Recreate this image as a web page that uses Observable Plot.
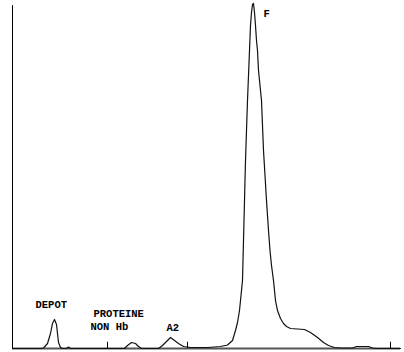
<!DOCTYPE html>
<html>
<head>
<meta charset="utf-8">
<script src="https://cdn.jsdelivr.net/npm/d3@7"></script>
<script src="https://cdn.jsdelivr.net/npm/@observablehq/plot@0.6"></script>
<style>
  html, body { margin: 0; padding: 0; background: #fff; }
  #chart svg { display: block; }
</style>
</head>
<body>
<div id="chart"></div>
<script>
// Retention time (min) and detector signal (% of F peak)
const times = [0, 0.28, 0.31, 0.35, 0.38, 0.40, 0.42, 0.44, 0.45, 0.46, 0.48, 0.50, 0.54, 0.56, 0.58,
  1.12, 1.15, 1.19, 1.23, 1.26, 1.29, 1.46, 1.50, 1.54, 1.58, 1.62, 1.66, 1.71, 1.78, 1.95, 2.08, 2.15,
  2.20, 2.23, 2.25, 2.27, 2.28, 2.29, 2.30, 2.305, 2.31, 2.315, 2.32, 2.325, 2.33, 2.34, 2.35, 2.36,
  2.37, 2.38, 2.39, 2.40, 2.41, 2.42, 2.43, 2.44, 2.45, 2.46, 2.48, 2.49, 2.50, 2.51, 2.525, 2.54,
  2.56, 2.575, 2.59, 2.61, 2.63, 2.65, 2.68, 2.71, 2.74, 2.78, 2.85, 2.92, 2.98, 3.05, 3.11, 3.16,
  3.22, 3.28, 3.40, 3.44, 3.56, 3.60, 3.64, 3.88];
const signal = [0, 0, 0.14, 1.45, 4.35, 7.25, 8.41, 6.96, 4.35, 1.74, 0.29, 0, 0, 0.43, 0,
  0, 0.87, 1.74, 1.45, 0.58, 0, 0, 0.87, 2.03, 3.19, 2.32, 1.45, 0.58, 0.29, 0.29, 0.58, 1.01,
  2.32, 5.22, 7.54, 11.01, 13.91, 16.81, 19.71, 25.51, 31.30, 37.10, 42.90, 48.70, 54.49, 63.19, 71.88, 79.13,
  86.38, 93.62, 97.39, 99.71, 100, 97.39, 93.62, 89.28, 86.38, 80.58, 74.78, 71.88, 64.64, 57.39, 50.14, 42.90,
  34.20, 28.41, 24.06, 19.71, 13.91, 11.01, 8.70, 7.25, 6.38, 5.80, 5.65, 5.51, 4.64, 3.19, 1.74, 0.87,
  0.29, 0.14, 0.14, 0.58, 0.58, 0.14, 0, 0];

// Integration window markers
const markerTimes = [0.95, 1.75, 3.78];

// Peak labels
const labelText = ["DEPOT", "PROTEINE", "NON Hb", "A2", "F"];
const labelTime = [0.23, 0.81, 0.78, 1.54, 2.51];
const labelSignal = [12.75, 10.14, 6.38, 6.09, 97.2];

const curve = times.map((t, i) => ({t, v: signal[i]}));
const labels = labelText.map((s, i) => ({s, t: labelTime[i], v: labelSignal[i]}));

const plot = Plot.plot({
  width: 404,
  height: 352,
  marginLeft: 12,
  marginRight: 4,
  marginTop: 3,
  marginBottom: 4,
  x: {domain: [0, 3.88], axis: null},
  y: {domain: [0, 100], axis: null},
  style: {background: "#fff"},
  marks: [
    Plot.ruleY([0], {x1: 0, x2: 3.88, stroke: "#555", strokeWidth: 2}),
    Plot.ruleX([0], {y1: 0, y2: 99.4, stroke: "#000", strokeWidth: 1}),
    Plot.ruleX(markerTimes, {y1: 0, y2: 1.8, stroke: "#000", strokeWidth: 1}),
    Plot.line(curve, {x: "t", y: "v", stroke: "#111", strokeWidth: 1.2}),
    Plot.text(labels, {x: "t", y: "v", text: "s", textAnchor: "start",
      fontFamily: "Liberation Mono", fontSize: 10.5, fontWeight: "bold", fill: "#000"})
  ]
});
document.getElementById("chart").appendChild(plot);
</script>
</body>
</html>
